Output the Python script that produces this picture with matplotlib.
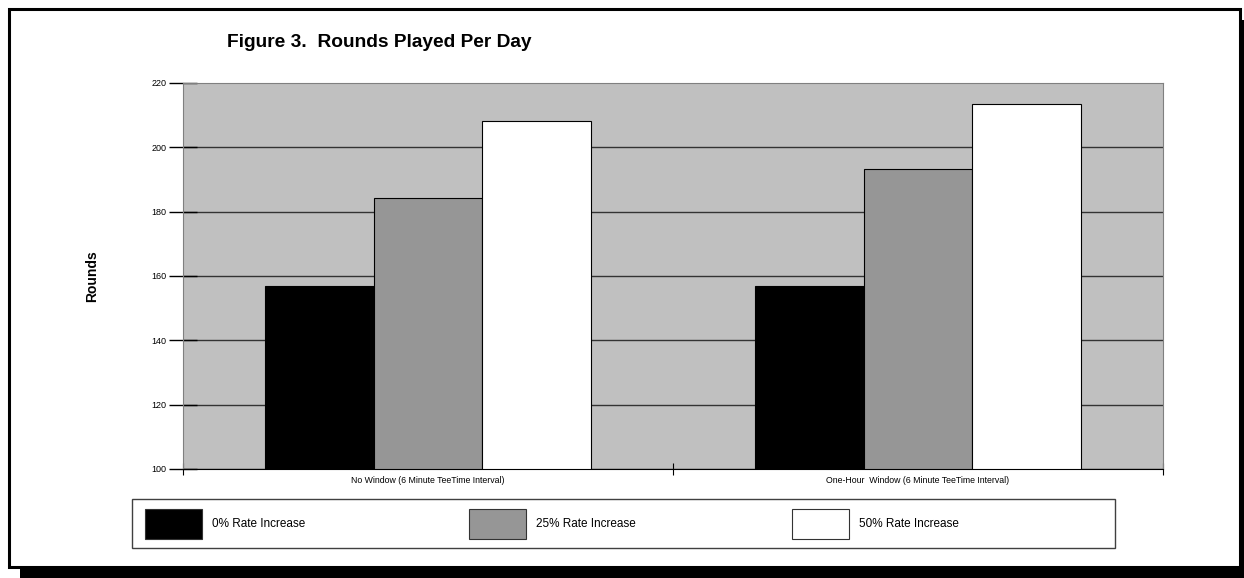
import numpy as np
import matplotlib.pyplot as plt
from matplotlib.patches import Rectangle

plt.rcParams['font.family'] = ['Liberation Sans', 'DejaVu Sans']

# data
categories = ['No Window (6 Minute TeeTime Interval)',
              'One-Hour  Window (6 Minute TeeTime Interval)']
series = ['0% Rate Increase', '25% Rate Increase', '50% Rate Increase']
rate_0 = [157, 157]
rate_25 = [184.2, 193.4]
rate_50 = [208.2, 213.6]
colors = ['#000000', '#969696', '#ffffff']

W, H = 1244, 578
fig = plt.figure(figsize=(W / 100, H / 100), dpi=100)
fig.patch.set_facecolor('white')

# background layer in pixel coords (frame, shadow, legend)
bg = fig.add_axes([0, 0, 1, 1], zorder=0)
bg.set_xlim(0, W)
bg.set_ylim(H, 0)
bg.axis('off')
bg.add_patch(Rectangle((20, 20), 1240, 570, facecolor='black', edgecolor='none'))
bg.add_patch(Rectangle((8.5, 8.5), 1231, 558, facecolor='white',
                       edgecolor='black', lw=2.2))

# main plot
ax = fig.add_axes([183 / W, 1 - 469 / H, 980 / W, 386 / H], zorder=1)
ax.set_facecolor('#c0c0c0')
ax.set_axisbelow(True)

x = np.arange(len(categories)) + 0.5
bw = 0.2214
for i, vals in enumerate([rate_0, rate_25, rate_50]):
    ax.bar(x + (i - 1) * bw, np.array(vals) - 100, bw, bottom=100,
           color=colors[i], edgecolor='black', lw=0.8, zorder=3)

ax.set_xlim(0, 2)
ax.set_ylim(100, 220)
ax.set_yticks(np.arange(100, 221, 20))
ax.yaxis.grid(True, color='#333333', lw=1.0, zorder=1)
ax.get_ygridlines()[-1].set_visible(False)
ax.tick_params(axis='y', direction='inout', length=20, width=1, color='black',
               labelsize=6.5, pad=2)

ax.set_xticks([0, 1, 2])
ax.set_xticklabels([])
ax.tick_params(axis='x', which='major', direction='inout', length=8.6,
               width=0.8, color='black')
ax.set_xticks(x, minor=True)
ax.set_xticklabels(categories, minor=True)
ax.tick_params(axis='x', which='minor', length=0, labelsize=6.3, pad=5)

for s in ['left', 'top', 'right']:
    ax.spines[s].set_color('#808080')
ax.spines['bottom'].set_color('black')

fig.text(227 / W, 1 - 47 / H, 'Figure 3.  Rounds Played Per Day',
         fontsize=13.8, fontweight='bold', ha='left', va='baseline')
fig.text(92 / W, 1 - 276 / H, 'Rounds', rotation=90, fontsize=10,
         fontweight='bold', ha='center', va='center')

# legend box
bg.add_patch(Rectangle((132, 499), 983, 49, facecolor='white',
                       edgecolor='#404040', lw=1))
for i, name in enumerate(series):
    x0 = 145 + i * 323.5
    bg.add_patch(Rectangle((x0, 509), 57, 30, facecolor=colors[i],
                           edgecolor='#333333', lw=0.8))
    bg.text(x0 + 67, 524, name, fontsize=8.5, ha='left', va='center')

fig.savefig('out.png', dpi=100)
